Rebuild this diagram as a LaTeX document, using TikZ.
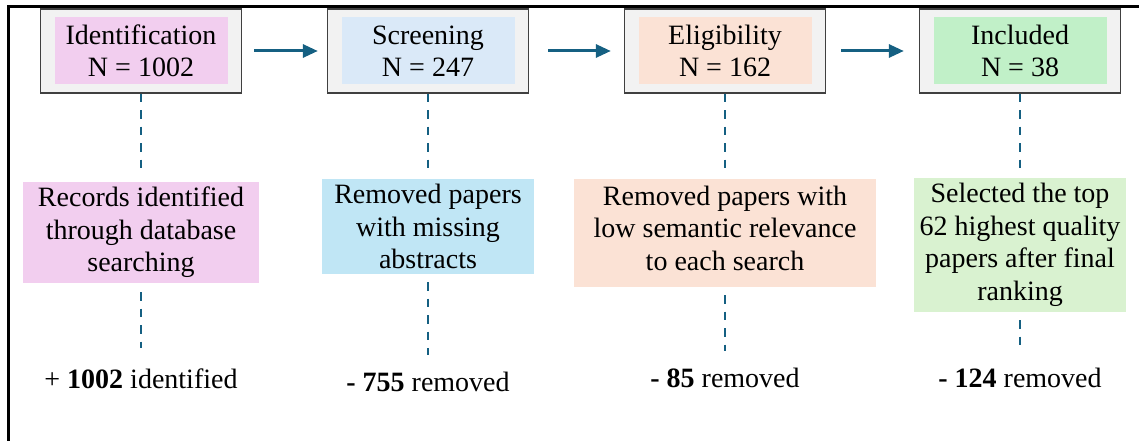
\documentclass[tikz,border=0pt]{standalone}
\usepackage{fontspec}
\setmainfont{Liberation Serif}
\usepackage{xcolor}
\usetikzlibrary{arrows.meta}
\definecolor{flowblue}{HTML}{156082}
\definecolor{boxgray}{HTML}{F2F2F2}
\definecolor{idpink}{HTML}{F2CEEF}
\definecolor{scblue}{HTML}{DAE9F8}
\definecolor{scdescblue}{HTML}{C0E6F5}
\definecolor{elorange}{HTML}{FBE2D5}
\definecolor{ingreen}{HTML}{C1F0C8}
\definecolor{indescgreen}{HTML}{D9F2D0}
\newcommand{\flowfont}{\fontsize{28}{32.5}\selectfont}

\begin{document}
\begin{tikzpicture}[
  x=1pt, y=-1pt,
  titlebox/.style={
    rectangle,
    draw=black!75,
    line width=1.3pt,
    fill=boxgray,
    minimum width=201pt,
    minimum height=84pt
  },
  titletext/.style={rectangle, minimum width=173pt, minimum height=67pt, align=center, inner sep=0pt, font=\flowfont},
  descbox/.style={rectangle, align=center, inner sep=0pt, font=\flowfont},
  result/.style={anchor=base, inner sep=0pt, font=\flowfont},
  arrow/.style={-{Triangle[length=15pt, width=13pt]}, line width=3pt, flowblue},
  dashline/.style={line width=2.8pt, flowblue, dash pattern=on 8.5pt off 8pt}
]
\useasboundingbox (0,0) rectangle (1139,441);

% Frame (top and left edges only)
\draw[line width=3pt] (1139,7) -- (8,7) -- (8,441);

% Stage boxes
\node[titlebox] (idbox) at (141, 51) {};
\node[titletext, fill=idpink] (idtitle) at (141, 51) {Identification\\N = 1002};

\node[titlebox] (scbox) at (428, 51) {};
\node[titletext, fill=scblue] (sctitle) at (428, 51) {Screening\\N = 247};

\node[titlebox] (elbox) at (725, 51) {};
\node[titletext, fill=elorange] (eltitle) at (725, 51) {Eligibility\\N = 162};

\node[titlebox] (inbox) at (1020, 51) {};
\node[titletext, fill=ingreen] (intitle) at (1020, 51) {Included\\N = 38};

% Description boxes
\node[descbox, fill=idpink, minimum width=236pt, minimum height=101pt] (iddesc) at (141, 232.5) {Records identified\\through database\\searching};
\node[descbox, fill=scdescblue, minimum width=212pt, minimum height=95pt] (scdesc) at (428, 226.5) {Removed papers\\with missing\\abstracts};
\node[descbox, fill=elorange, minimum width=302pt, minimum height=108pt, text depth=10pt] (eldesc) at (725, 233) {Removed papers with\\low semantic relevance\\to each search};
\node[descbox, fill=indescgreen, minimum width=212pt, minimum height=134pt] (indesc) at (1020, 245) {Selected the top\\62 highest quality\\papers after final\\ranking};

% Counts
\node[result] (idres) at (141, 388) {+ \textbf{1002} identified};
\node[result] (scres) at (428, 391.5) {\textbf{- 755} removed};
\node[result] (elres) at (725, 387) {\textbf{- 85} removed};
\node[result] (inres) at (1020, 387) {\textbf{- 124} removed};

% Flow arrows
\draw[arrow, shorten <=12pt, shorten >=9pt] (idbox) -- (scbox);
\draw[arrow, shorten <=19pt, shorten >=13pt] (scbox) -- (elbox);
\draw[arrow, shorten <=15pt, shorten >=15pt] (elbox) -- (inbox);

% Dashed links
\draw[dashline, shorten >=13pt] (idbox) -- (iddesc);
\draw[dashline, shorten >=10pt] (scbox) -- (scdesc);
\draw[dashline, shorten >=10pt] (elbox) -- (eldesc);
\draw[dashline, shorten >=9pt] (inbox) -- (indesc);

\draw[dashline, shorten <=9pt, shorten >=20pt] (iddesc) -- (idres);
\draw[dashline, shorten <=8pt, shorten >=16.5pt] (scdesc) -- (scres);
\draw[dashline, shorten <=8pt, shorten >=16pt] (eldesc) -- (elres);
\draw[dashline, shorten <=8pt, shorten >=21pt] (indesc) -- (inres);

\end{tikzpicture}
\end{document}
